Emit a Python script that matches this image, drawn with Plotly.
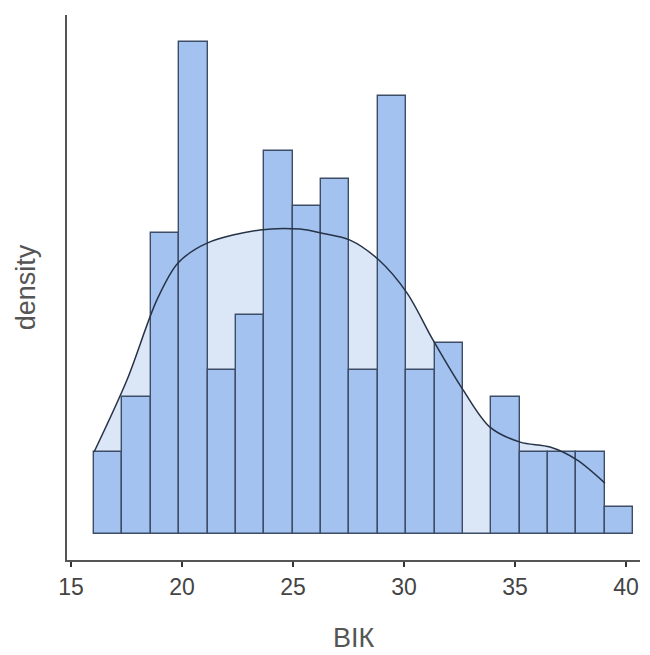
import plotly.graph_objects as go

# Histogram data (counts per bin)
bin_start = 16.04
bin_width = 1.278
counts = [3, 5, 11, 18, 6, 8, 14, 12, 13, 6, 16, 6, 7, 0, 5, 3, 3, 3, 1]

# Density curve (scaled to count units)
dens_x = [16.04, 17.52, 18.87, 19.82, 21.13, 23.51, 25.32, 26.31, 27.57, 28.87,
          30.14, 31.31, 32.66, 33.87, 35.23, 36.58, 37.79, 39.05]
dens_y = [3.0, 5.63, 8.56, 9.91, 10.64, 11.12, 11.15, 11.0, 10.75, 10.02,
          8.81, 7.09, 5.27, 3.91, 3.36, 3.18, 2.71, 1.86]

x_ticks = [15, 20, 25, 30, 35, 40]

centers = [bin_start + bin_width * (i + 0.5) for i in range(len(counts))]

XR = [14.82, 40.63]
YR = [-0.95, 18.98]

fig = go.Figure()
# density fill on the base axes (drawn underneath)
fig.add_trace(go.Scatter(
    x=dens_x, y=dens_y, mode="lines", fill="tozeroy",
    line=dict(width=0, shape="spline", smoothing=0.9), fillcolor="#dbe6f7",
    hoverinfo="skip", showlegend=False, xaxis="x", yaxis="y"))
# bars and density line on overlaid axes (drawn on top)
fig.add_trace(go.Bar(
    x=centers, y=counts, width=bin_width,
    marker=dict(color="#a3c2ef", line=dict(color="#3e4d66", width=1.4)),
    showlegend=False, xaxis="x2", yaxis="y2"))
fig.add_trace(go.Scatter(
    x=dens_x, y=dens_y, mode="lines",
    line=dict(color="#263347", width=1.5, shape="spline", smoothing=0.9),
    showlegend=False, xaxis="x2", yaxis="y2"))

fig.update_layout(
    width=642, height=647,
    margin=dict(l=59, r=10, t=7, b=95),
    paper_bgcolor="white", plot_bgcolor="white",
    font=dict(family="Liberation Sans, Arial, sans-serif", color="#444"),
    bargap=0,
    xaxis=dict(
        range=XR, tickvals=x_ticks, ticks="outside", ticklen=5,
        tickwidth=2, tickcolor="#333", showline=True, linecolor="#555",
        linewidth=2, showgrid=False, zeroline=False, automargin=False,
        tickfont=dict(size=23, color="#444"),
        title=dict(text="ВІК", font=dict(size=27, color="#555"), standoff=30)),
    yaxis=dict(
        range=YR, showticklabels=False, ticks="",
        showline=True, linecolor="#555", linewidth=2, showgrid=False,
        zeroline=False, automargin=False,
        title=dict(text="density", font=dict(size=27, color="#555"), standoff=22)),
    xaxis2=dict(range=XR, overlaying="x", visible=False),
    yaxis2=dict(range=YR, overlaying="y", visible=False),
)

fig.write_html("out.html")
